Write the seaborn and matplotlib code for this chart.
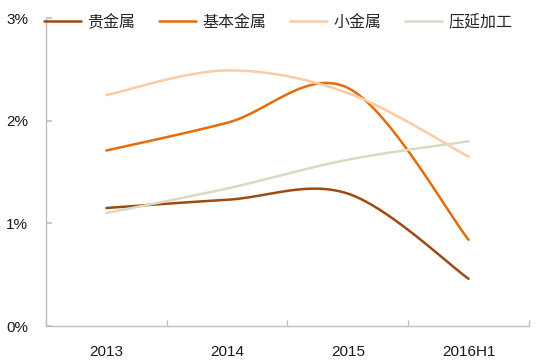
import numpy as np
import pandas as pd
import matplotlib
matplotlib.use("Agg")
import matplotlib.pyplot as plt
import seaborn as sns

# Data (percent)
years = ["2013", "2014", "2015", "2016H1"]
precious = [1.15, 1.23, 1.29, 0.46]
base = [1.71, 1.98, 2.32, 0.84]
minor = [2.25, 2.49, 2.27, 1.65]
rolling = [1.10, 1.34, 1.62, 1.80]

names = ["贵金属", "基本金属", "小金属", "压延加工"]
colors = ["#9E4A10", "#E46C0A", "#FBCBA5", "#DDD8C4"]


def smooth(xs, ys, n=40):
    # Catmull-Rom style smoothing like Excel's smoothed line
    xs = np.asarray(xs, float)
    ys = np.asarray(ys, float)
    px = np.concatenate([[xs[0]], xs, [xs[-1]]])
    py = np.concatenate([[ys[0]], ys, [ys[-1]]])
    ox, oy = [], []
    for i in range(1, len(px) - 2):
        p0, p1, p2, p3 = [np.array([px[j], py[j]]) for j in (i - 1, i, i + 1, i + 2)]
        c1 = p1 + (p2 - p0) / 6
        c2 = p2 - (p3 - p1) / 6
        t = np.linspace(0, 1, n)[:, None]
        b = (1 - t) ** 3 * p1 + 3 * (1 - t) ** 2 * t * c1 + 3 * (1 - t) * t ** 2 * c2 + t ** 3 * p2
        if i > 1:
            b = b[1:]
        ox.extend(b[:, 0])
        oy.extend(b[:, 1])
    return np.array(ox), np.array(oy)


sns.set_theme(style="white")
plt.rcParams['font.family'] = ['Liberation Sans', 'Noto Sans CJK SC', 'DejaVu Sans']

fig = plt.figure(figsize=(5.37, 3.62), dpi=100)
ax = fig.add_axes([0.0857, 0.0994, 0.8993, 0.8506])

xpos = np.arange(len(years))
series = [precious, base, minor, rolling]
for name, vals, col in zip(names, series, colors):
    sx, sy = smooth(xpos, vals)
    df = pd.DataFrame({"x": sx, "y": sy})
    sns.lineplot(data=df, x="x", y="y", ax=ax, color=col, linewidth=1.8,
                 sort=False, label=name, estimator=None)

ax.set_xlim(-0.5, len(years) - 0.5)
ax.set_ylim(0, 3)
ax.set_yticks([0, 1, 2, 3])
ax.set_yticklabels([f"{v}%" for v in range(4)])
ax.set_xticks(xpos)
ax.set_xticklabels(years)
ax.set_xticks(np.arange(len(years) + 1) - 0.5, minor=True)
ax.set_xlabel("")
ax.set_ylabel("")

for s in ["top", "right"]:
    ax.spines[s].set_visible(False)
for s in ["left", "bottom"]:
    ax.spines[s].set_color("#BFBFBF")
    ax.spines[s].set_linewidth(1.0)

ax.tick_params(axis="y", which="major", direction="in", length=4, color="#BFBFBF",
               left=True, labelsize=11, pad=13, labelcolor="#1a1a1a")
ax.tick_params(axis="x", which="major", length=0, labelsize=11, pad=14, labelcolor="#1a1a1a")
ax.tick_params(axis="x", which="minor", direction="in", length=4, color="#BFBFBF", bottom=True)

leg = ax.legend(loc="upper center", bbox_to_anchor=(0.481, 1.06), ncol=4, frameon=False,
                handlelength=2.3, handletextpad=0.4, columnspacing=1.5,
                prop={"family": ["Noto Sans CJK SC"], "size": 11.5})

fig.savefig("out.png", dpi=100)
